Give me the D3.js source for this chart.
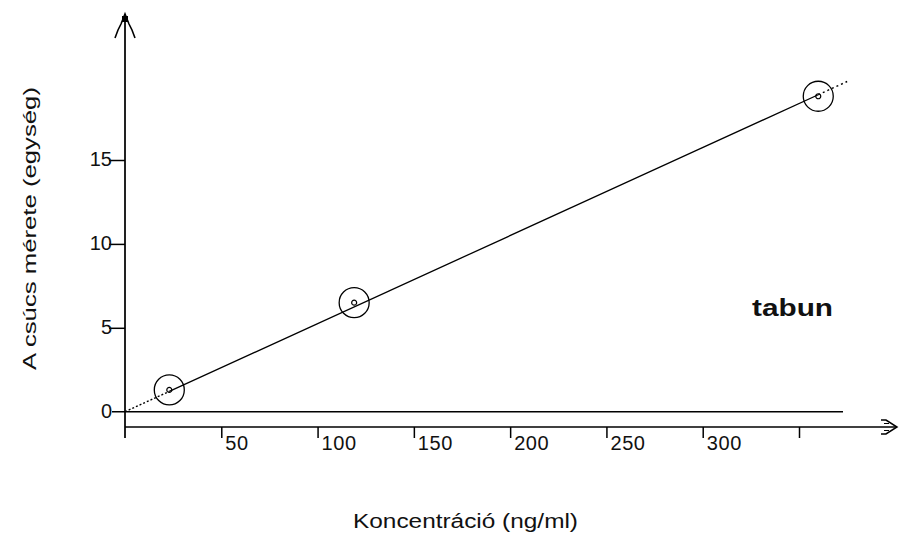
<!DOCTYPE html>
<html>
<head>
<meta charset="utf-8">
<script src="https://cdn.jsdelivr.net/npm/d3@7"></script>
<style>
  html, body { margin: 0; padding: 0; background: #fff; }
  svg { display: block; }
  text { font-family: "Liberation Sans", Arial, sans-serif; fill: #111; }
</style>
</head>
<body>
<svg id="chart" width="899" height="536"></svg>
<script>
// Calibration points for tabun
const concentration = [23, 119, 360];      // ng/ml
const peakSize = [1.3, 6.5, 18.8];         // units
const xTicks = [50, 100, 150, 200, 250, 300, 350];
const xTickLabels = ["50", "100", "150", "200", "250", "300", ""];
const yTicks = [5, 10, 15];
const xTitle = "Koncentráció (ng/ml)";
const yTitle = "A csúcs mérete (egység)";
const seriesName = "tabun";

const svg = d3.select("#chart");
const x = d3.scaleLinear().domain([0, 350]).range([125, 799]);
const y = d3.scaleLinear().domain([0, 15]).range([411.7, 160]);
const axisY = 427;   // baseline of the concentration axis
const labelFont = "Liberation Sans, Arial, sans-serif";

// straight line through the origin (least squares)
const slope = d3.sum(concentration, (c, i) => c * peakSize[i]) / d3.sum(concentration, c => c * c);
const xEnd = 375;

// vertical axis with arrow
svg.append("line").attr("x1", 125).attr("x2", 125).attr("y1", 14).attr("y2", 438)
  .attr("stroke", "#222").attr("stroke-width", 2);
svg.append("path").attr("d", "M115,38 L118,30 L121,24 L125,14 L129,24 L132,30 L135,38")
  .attr("fill", "none").attr("stroke", "#000").attr("stroke-width", 1.6);
svg.append("rect").attr("x", 122).attr("y", 16).attr("width", 6).attr("height", 6).attr("fill", "#000");

// y ticks
const yAxis = d3.axisLeft(y).tickValues(yTicks).tickSize(16).tickPadding(-3).tickFormat(d3.format("d"));
const gy = svg.append("g").attr("transform", "translate(125,0)").call(yAxis);
gy.select(".domain").remove();
gy.selectAll(".tick line").attr("stroke", "#000").attr("stroke-width", 1.5);
gy.selectAll(".tick text").attr("font-size", 20).attr("fill", "#111")
  .attr("font-family", labelFont).attr("dy", "0.27em");

// zero line and its label
svg.append("line").attr("x1", 112).attr("x2", 843).attr("y1", y(0)).attr("y2", y(0))
  .attr("stroke", "#000").attr("stroke-width", 1.6);
svg.append("text").attr("x", 112).attr("y", y(0)).attr("dy", "0.3em").attr("text-anchor", "end")
  .attr("font-size", 20).text("0");

// horizontal axis with arrow
svg.append("line").attr("x1", 125).attr("x2", 897).attr("y1", axisY).attr("y2", axisY)
  .attr("stroke", "#000").attr("stroke-width", 1.6);
svg.append("path").attr("d", "M881,420 L886,420 L897,427 L886,434 L881,434")
  .attr("fill", "none").attr("stroke", "#000").attr("stroke-width", 1.5);
svg.append("path").attr("d", "M884,423.5 L889,423.5 M884,430.5 L889,430.5")
  .attr("fill", "none").attr("stroke", "#000").attr("stroke-width", 1.2);

const xAxis = d3.axisBottom(x).tickValues(xTicks).tickSize(11)
  .tickFormat((d, i) => xTickLabels[i]);
const gx = svg.append("g").attr("transform", `translate(0,${axisY})`).call(xAxis);
gx.select(".domain").remove();
gx.selectAll(".tick line").attr("stroke", "#000").attr("stroke-width", 1.5);
gx.selectAll(".tick text").attr("font-size", 20).attr("fill", "#111")
  .attr("font-family", labelFont).attr("letter-spacing", 0.6)
  .attr("text-anchor", "start").attr("x", 3.5).attr("y", 9).attr("dy", "0.71em");

// fitted line: dotted outside the measured range, solid between
const line = d3.line().x(d => x(d)).y(d => y(slope * d));
const xMin = d3.min(concentration), xMax = d3.max(concentration);
svg.append("path").attr("d", line([0, xMin])).attr("fill", "none")
  .attr("stroke", "#000").attr("stroke-width", 1.4).attr("stroke-dasharray", "2,2");
svg.append("path").attr("d", line([xMin, xMax])).attr("fill", "none")
  .attr("stroke", "#000").attr("stroke-width", 1.3);
svg.append("path").attr("d", line([xMax, xEnd])).attr("fill", "none")
  .attr("stroke", "#000").attr("stroke-width", 1.4).attr("stroke-dasharray", "2,3");

// measured points
const pts = svg.append("g").selectAll("g").data(concentration).join("g")
  .attr("transform", (d, i) => `translate(${x(d)},${y(peakSize[i])})`);
pts.append("circle").attr("r", 15).attr("fill", "none").attr("stroke", "#000").attr("stroke-width", 1.3);
pts.append("circle").attr("r", 2.5).attr("fill", "none").attr("stroke", "#000").attr("stroke-width", 1.2);

// series name
svg.append("text").attr("x", 752).attr("y", 316).attr("font-size", 24).attr("font-weight", "bold")
  .attr("textLength", 81).attr("lengthAdjust", "spacingAndGlyphs")
  .text(seriesName);

// axis titles
svg.append("text").attr("x", 353).attr("y", 528)
  .attr("font-size", 20).attr("textLength", 225).attr("lengthAdjust", "spacingAndGlyphs")
  .text(xTitle);
svg.append("text").attr("transform", "translate(36,370) rotate(-90)")
  .attr("font-size", 19).attr("textLength", 283).attr("lengthAdjust", "spacingAndGlyphs")
  .text(yTitle);
</script>
</body>
</html>
